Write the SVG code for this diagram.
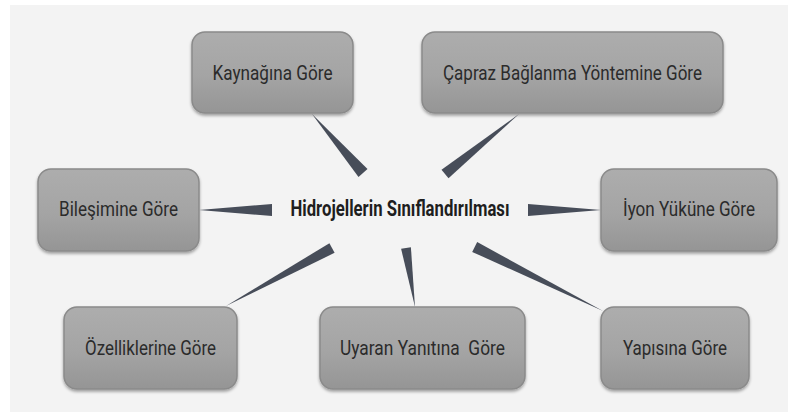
<svg xmlns="http://www.w3.org/2000/svg" width="796" height="417" viewBox="0 0 796 417">
<defs>
<linearGradient id="boxGrad" x1="0" y1="0" x2="0" y2="1">
<stop offset="0" stop-color="#adadad"/>
<stop offset="0.55" stop-color="#a4a4a4"/>
<stop offset="1" stop-color="#959595"/>
</linearGradient>
<filter id="shadow" x="-10%" y="-10%" width="120%" height="130%">
<feDropShadow dx="0" dy="2" stdDeviation="1.5" flood-color="#000" flood-opacity="0.35"/>
</filter>
</defs>
<style>
.box{fill:url(#boxGrad);stroke:#8a8a8a;stroke-width:1.5;filter:url(#shadow)}
.lbl{font-family:Roboto,"Liberation Sans",sans-serif;font-size:20px;fill:#2b2b2b;text-anchor:middle;white-space:pre}
.title{font-family:Roboto,"Liberation Sans",sans-serif;font-size:22px;font-weight:bold;fill:#1e1e1e;text-anchor:middle}
.wedge{fill:#474d59}
</style>
<rect x="0" y="0" width="796" height="417" fill="#ffffff"/>
<rect x="10" y="5" width="778" height="407" fill="#f3f3f3"/>
<g id="connectors">
<polygon class="wedge" points="312,114 358.5,176.9 367.5,169.1"/>
<polygon class="wedge" points="519,114 448.5,178.3 441.5,169.7"/>
<polygon class="wedge" points="199,210 272,204 272,216"/>
<polygon class="wedge" points="601,210 528,204 528,216"/>
<polygon class="wedge" points="226,306 334.6,252.8 329.4,243.2"/>
<polygon class="wedge" points="415,307 410.9,247.2 401.1,248.8"/>
<polygon class="wedge" points="603,311 477.2,242.1 472.2,251.9"/>
</g>
<g id="center">
<text class="title" x="400" y="216" textLength="219" lengthAdjust="spacingAndGlyphs">Hidrojellerin Sınıflandırılması</text>
</g>
<g id="kaynagina">
<rect class="box" x="192" y="32" width="161" height="81" rx="13"/>
<text class="lbl" x="272.5" y="80" textLength="120" lengthAdjust="spacingAndGlyphs">Kaynağına Göre</text>
</g>
<g id="capraz">
<rect class="box" x="422" y="32" width="301" height="81" rx="13"/>
<text class="lbl" x="572.5" y="80" textLength="259" lengthAdjust="spacingAndGlyphs">Çapraz Bağlanma Yöntemine Göre</text>
</g>
<g id="bilesimine">
<rect class="box" x="38" y="169" width="161" height="82" rx="13"/>
<text class="lbl" x="118.5" y="216" textLength="119" lengthAdjust="spacingAndGlyphs">Bileşimine Göre</text>
</g>
<g id="iyon">
<rect class="box" x="601" y="169" width="176" height="82" rx="13"/>
<text class="lbl" x="689" y="216" textLength="132" lengthAdjust="spacingAndGlyphs">İyon Yüküne Göre</text>
</g>
<g id="ozellik">
<rect class="box" x="64" y="307" width="173" height="82" rx="13"/>
<text class="lbl" x="150.5" y="355" textLength="131" lengthAdjust="spacingAndGlyphs">Özelliklerine Göre</text>
</g>
<g id="uyaran">
<rect class="box" x="320" y="307" width="205" height="82" rx="13"/>
<text class="lbl" x="422.5" y="355" textLength="165" lengthAdjust="spacingAndGlyphs" xml:space="preserve">Uyaran Yanıtına  Göre</text>
</g>
<g id="yapisina">
<rect class="box" x="601" y="307" width="148" height="82" rx="13"/>
<text class="lbl" x="675" y="355" textLength="104" lengthAdjust="spacingAndGlyphs">Yapısına Göre</text>
</g>
</svg>
